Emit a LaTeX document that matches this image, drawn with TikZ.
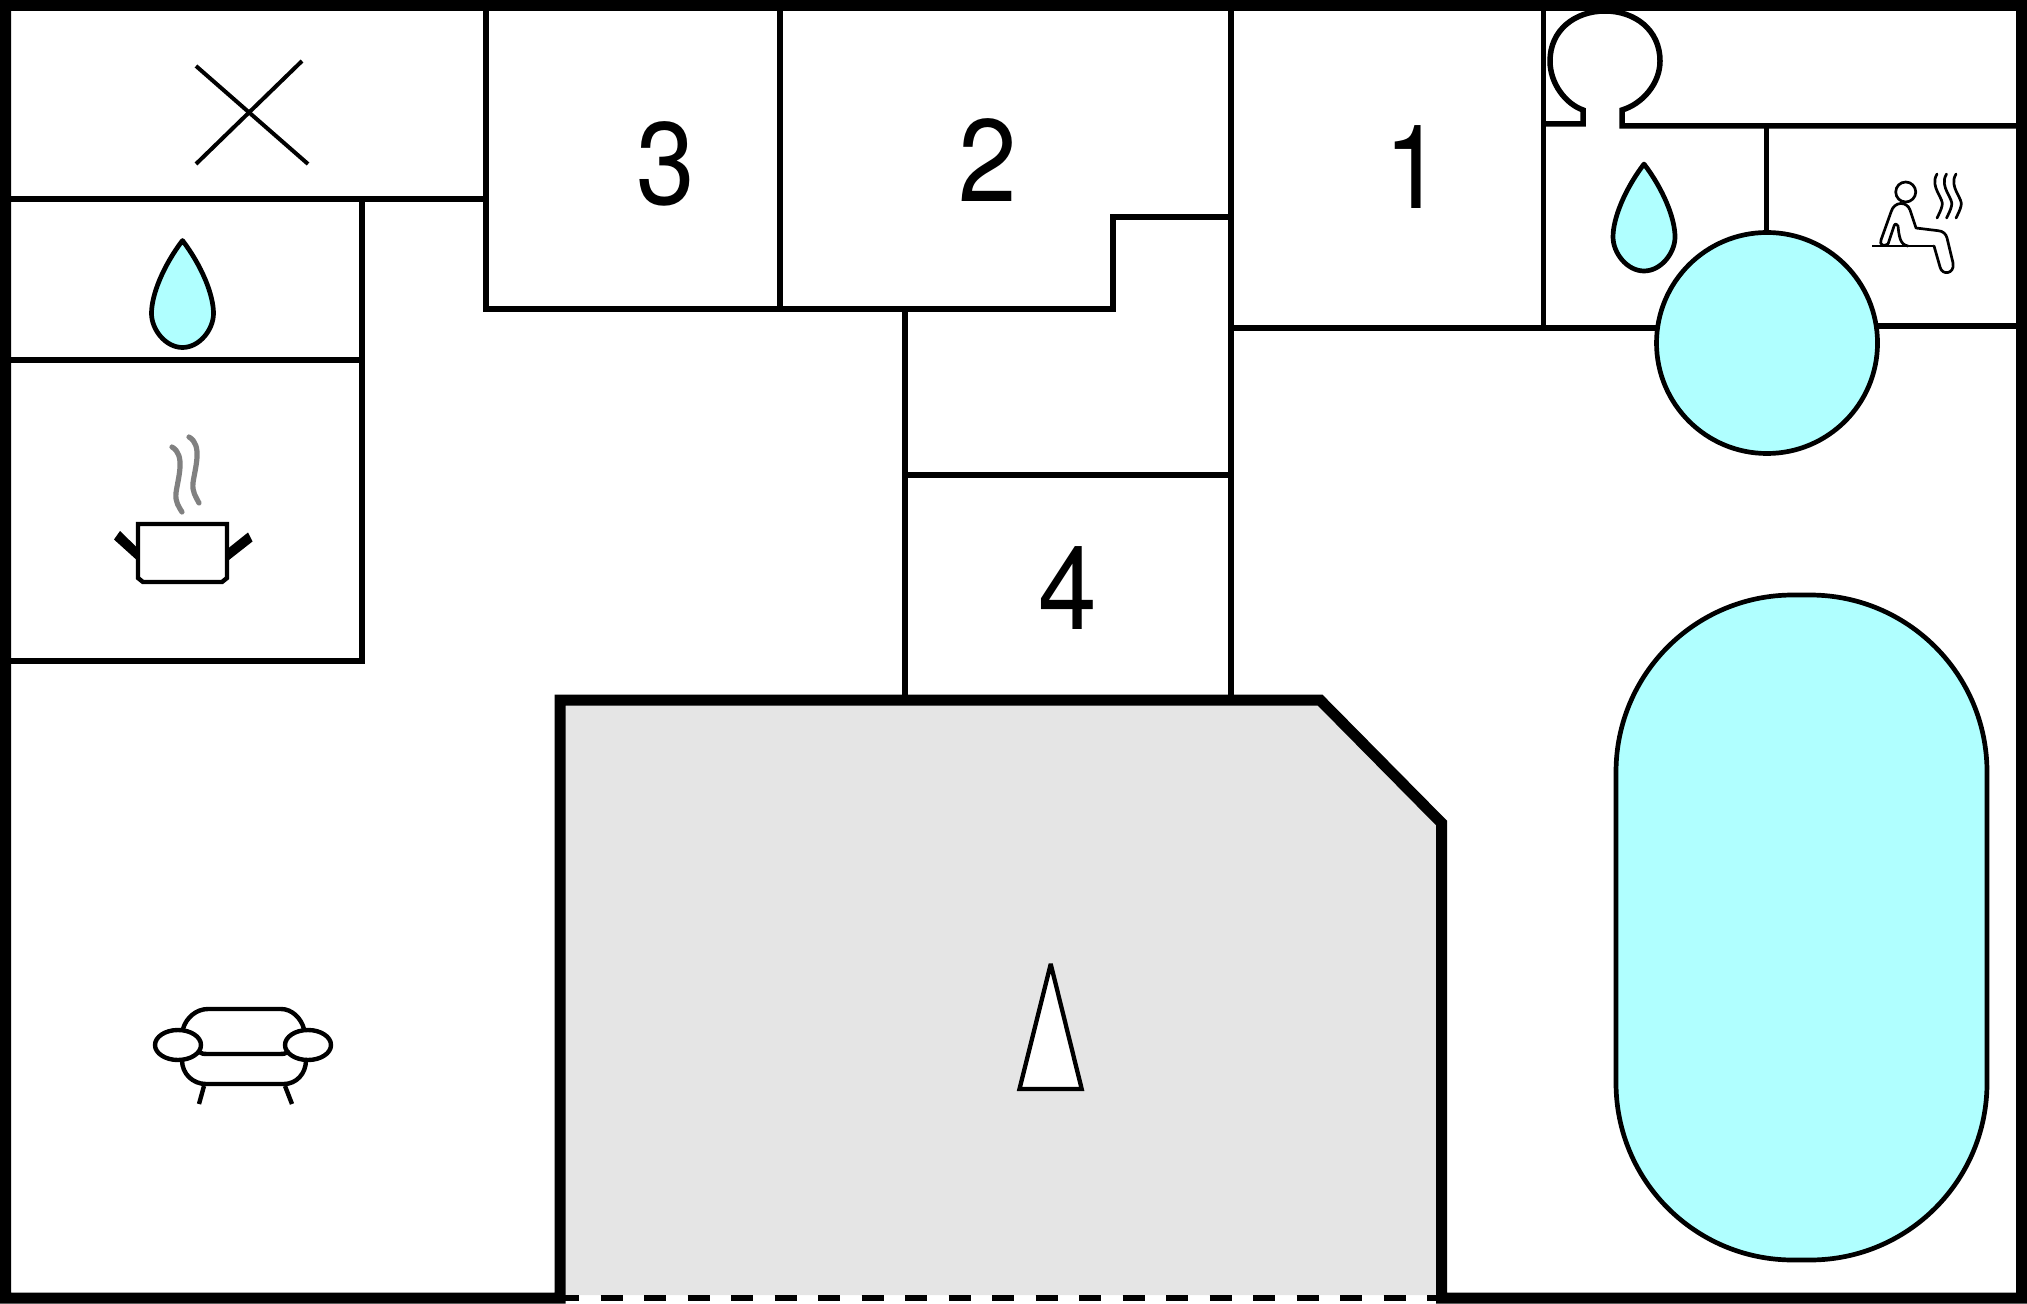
\documentclass[tikz,border=0pt]{standalone}
\usepackage{fontspec}
\newfontfamily\roomfont[FakeStretch=0.9]{TeX Gyre Heros}
\usepackage{xcolor}
\definecolor{poolcyan}{RGB}{176,255,255}
\definecolor{terracegrey}{RGB}{229,229,229}
\usetikzlibrary{positioning}
\tikzset{
    outerwall/.style={
        line width=5.5pt,
        draw=black,
        miter limit=4,
    },
    wall/.style={
        line width=2.75pt,
        draw=black,
    },
    water/.style={
        line width=2.35pt,
        draw=black,
        fill=poolcyan,
    },
    icon/.style={
        line width=2.2pt,
        draw=black,
        line cap=round,
        line join=round,
    },
    thinicon/.style={
        line width=1.35pt,
        draw=black,
        line cap=round,
        line join=round,
    },
    roomno/.style={
        inner sep=0pt,
        font=\roomfont\fontsize{58.5}{60}\selectfont,
    },
    waterdrop/.pic={
        \draw[water, line join=round] (0,0) .. controls (-19,25) and (-31,54) .. (-31,73)
            .. controls (-31,89) and (-17,107) .. (0,107)
            .. controls (17,107) and (31,89) .. (31,73)
            .. controls (31,54) and (19,25) .. (0,0) -- cycle;
    },
}
\begin{document}
\begin{tikzpicture}[x=0.5pt, y=-0.5pt]
    \useasboundingbox (0,0) rectangle (2027,1304);

    \fill[terracegrey] (560,700) -- (1320,700) -- (1441.5,823) -- (1441.5,1295) -- (560,1295) -- cycle;

    \draw[wall] (0,199) -- (486,199);
    \draw[wall] (486,0) -- (486,309) -- (1113,309) -- (1113,217) -- (1231,217);
    \draw[wall] (780,0) -- (780,309);
    \draw[wall] (1231,0) -- (1231,700);
    \draw[wall] (905,309) -- (905,700);
    \draw[wall] (905,475) -- (1231,475);
    \draw[wall] (0,360) -- (362,360);
    \draw[wall] (362,199) -- (362,661) -- (0,661);
    \draw[wall] (1231,328) -- (1660,328);
    \draw[wall] (1875,326) -- (2016,326);
    \draw[wall] (1543.7,0) -- (1543.7,328);
    \draw[wall] (1766.5,126) -- (1766.5,240);
    \draw[wall] (1543.7,124) -- (1583,124) -- (1583,110)
        .. controls (1566,104) and (1550,84) .. (1550,61)
        .. controls (1550,30) and (1575,11) .. (1605,11)
        .. controls (1635,11) and (1660,30) .. (1660,61)
        .. controls (1660,84) and (1642,104) .. (1622,110)
        -- (1622,126) -- (2016,126);

    \draw[outerwall] (560,1298) -- (5.5,1298) -- (5.5,5.5) -- (2021.5,5.5) -- (2021.5,1298)
        -- (1441.5,1298) -- (1441.5,823) -- (1320,700) -- (560,700) -- cycle;
    \draw[line width=3pt, dash pattern=on 11pt off 10.75pt, dash phase=4pt] (565,1298) -- (1436,1298);

    \node[roomno] (room3) at (666,163.5) {3};
    \node[roomno] (room2) at (987.5,160) {2};
    \node[roomno] (room1) at (1414,167) {1};
    \node[roomno] (room4) at (1067.5,588) {4};

    \draw[water] (1767,343) circle (110.5);
    \draw[water, rounded corners=88.5pt] (1616,595) rectangle (1987,1260);
    \pic at (182.5,240.5) {waterdrop};
    \pic at (1644,164) {waterdrop};

    \draw[wall, line width=2pt] (196,66) -- (308,164);
    \draw[wall, line width=2pt] (302,61) -- (196,164);

    \draw[wall, line width=2.15pt, fill=white, miter limit=3] (1050.7,964) -- (1019.5,1089) -- (1081.7,1089) -- cycle;

    \draw[icon, line cap=butt, line join=miter] (138,524) -- (227,524) -- (227,578) -- (222,582) -- (143,582) -- (138,578) -- cycle;
    \fill (120,531) -- (114,539.5) -- (136.7,560) -- (139,549.5) -- cycle;
    \fill (248,532.5) -- (252.5,541.5) -- (228.3,560.5) -- (226.7,549.5) -- cycle;
    \draw[icon, draw=gray, line width=2.6pt] (172,447) .. controls (186,455) and (178,478) .. (176,493) .. controls (175,502) and (179,507) .. (182,512);
    \draw[icon, draw=gray, line width=2.6pt] (189,437) .. controls (203,445) and (195,468) .. (193,483) .. controls (192,492) and (196,497) .. (199,503);

    \draw[icon] (183,1029) .. controls (186,1018) and (196,1009) .. (208,1009) -- (281,1009) .. controls (292,1009) and (301,1018) .. (304,1029);
    \draw[icon] (199,1052) .. controls (202,1054) and (204,1054) .. (207,1054) -- (280,1054) .. controls (283,1054) and (285,1054) .. (288,1052);
    \draw[icon] (182,1060) .. controls (182,1074) and (193,1084) .. (206,1084) -- (284,1084) .. controls (296,1084) and (306,1074) .. (306,1060);
    \draw[icon, line cap=butt] (204,1086) -- (199,1104);
    \draw[icon, line cap=butt] (285,1086) -- (292,1104);
    \draw[icon] (178,1045) ellipse (23 and 15);
    \draw[icon] (308,1045) ellipse (23 and 15);

    \draw[thinicon] (1905.7,192) circle (10);
    \draw[thinicon, line cap=butt] (1872,246) -- (1933,246);
    \draw[thinicon] (1888,244) .. controls (1884,247) and (1879,245) .. (1881,240) -- (1891,212)
        .. controls (1894,201) and (1907,201) .. (1910,210) -- (1916,228) -- (1938,230.7)
        .. controls (1943,231) and (1946,234) .. (1947,238) -- (1953,263)
        .. controls (1955,274) and (1942,276) .. (1940,267) -- (1934,246);
    \draw[thinicon] (1888,244) -- (1894,226) .. controls (1895,223) and (1897,224) .. (1898,226)
        .. controls (1899,236) and (1900,245) .. (1908,246);
    \draw[thinicon] (1937,174) .. controls (1929,187) and (1945,199) .. (1942,206) .. controls (1941,210) and (1939,214) .. (1937,218);
    \draw[thinicon] (1946.5,174) .. controls (1938.5,187) and (1954.5,199) .. (1951.5,206) .. controls (1950.5,210) and (1948.5,214) .. (1946.5,218);
    \draw[thinicon] (1956,174) .. controls (1948,187) and (1964,199) .. (1961,206) .. controls (1960,210) and (1958,214) .. (1956,218);
\end{tikzpicture}
\end{document}
